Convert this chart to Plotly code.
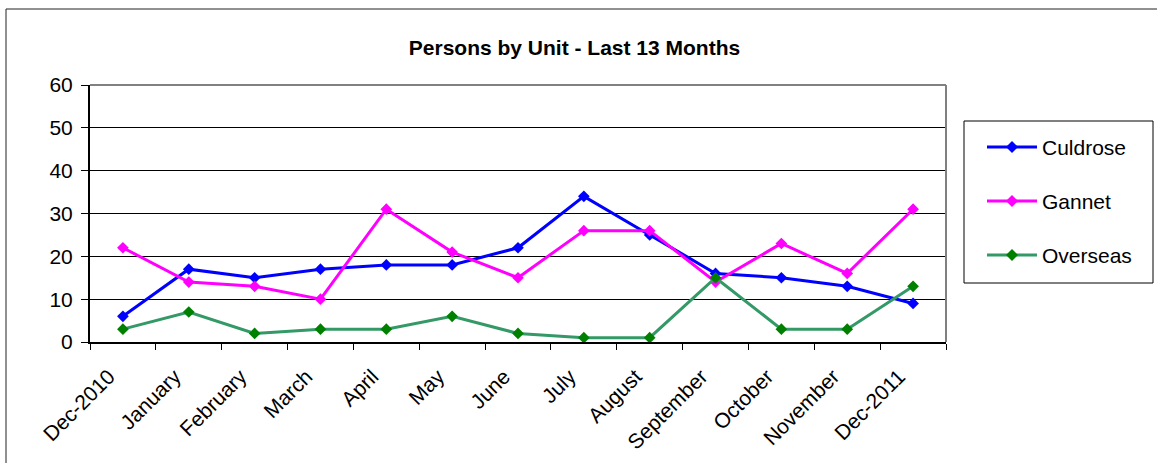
import plotly.graph_objects as go

months = ["Dec-2010", "January", "February", "March", "April", "May", "June",
          "July", "August", "September", "October", "November", "Dec-2011"]
culdrose = [6, 17, 15, 17, 18, 18, 22, 34, 25, 16, 15, 13, 9]
gannet = [22, 14, 13, 10, 31, 21, 15, 26, 26, 14, 23, 16, 31]
overseas = [3, 7, 2, 3, 3, 6, 2, 1, 1, 15, 3, 3, 13]

series_names = ["Culdrose", "Gannet", "Overseas"]
series_values = [culdrose, gannet, overseas]
line_colors = ["#0000FF", "#FF00FF", "#339966"]
marker_colors = ["#0000FF", "#FF00FF", "#008000"]

FONT = "Liberation Sans, Arial, sans-serif"
W, H = 1157, 463
L, R, T, B = 90, 946, 85, 342  # plot area in pixels


def px_x(px):
    return (px - L) / (R - L)


def px_y(py):
    return (B - py) / (B - T)


fig = go.Figure()
for name, vals, lc, mc in zip(series_names, series_values, line_colors, marker_colors):
    fig.add_trace(go.Scatter(
        x=months, y=vals, name=name, mode="lines+markers",
        line=dict(color=lc, width=3),
        marker=dict(symbol="diamond", size=9, color=mc, line=dict(width=0)),
        showlegend=False, cliponaxis=False,
    ))

shapes = []
# outer chart border
shapes.append(dict(type="rect", xref="paper", yref="paper",
                   x0=px_x(6), x1=px_x(1200), y0=px_y(500), y1=px_y(9),
                   line=dict(color="#222222", width=1), layer="below"))
# plot area top / right border (gray)
shapes.append(dict(type="line", xref="paper", yref="paper", x0=0, x1=1, y0=1, y1=1,
                   line=dict(color="#808080", width=2), layer="above"))
shapes.append(dict(type="line", xref="paper", yref="paper", x0=1, x1=1, y0=0, y1=1,
                   line=dict(color="#808080", width=2), layer="above"))

# manual legend
shapes.append(dict(type="rect", xref="paper", yref="paper",
                   x0=px_x(964), x1=px_x(1153), y0=px_y(283), y1=px_y(121),
                   line=dict(color="#000000", width=1), fillcolor="white", layer="above"))
annotations = []
entry_y = [147, 201, 255]
for name, lc, mc, ey in zip(series_names, line_colors, marker_colors, entry_y):
    shapes.append(dict(type="line", xref="paper", yref="paper",
                       x0=px_x(987), x1=px_x(1037), y0=px_y(ey), y1=px_y(ey),
                       line=dict(color=lc, width=3), layer="above"))
    cx, h = 1012, 6
    path = "M {} {} L {} {} L {} {} L {} {} Z".format(
        px_x(cx - h), px_y(ey), px_x(cx), px_y(ey - h),
        px_x(cx + h), px_y(ey), px_x(cx), px_y(ey + h))
    shapes.append(dict(type="path", xref="paper", yref="paper", path=path,
                       fillcolor=mc, line=dict(color=mc, width=0), layer="above"))
    annotations.append(dict(xref="paper", yref="paper", x=px_x(1040), y=px_y(ey),
                            xanchor="left", yanchor="middle", text=name, showarrow=False,
                            font=dict(family=FONT, size=21, color="black")))

fig.update_layout(
    width=W, height=H, autosize=False,
    margin=dict(l=L, r=W - R, t=T, b=H - B, pad=0),
    paper_bgcolor="white", plot_bgcolor="white",
    font=dict(family=FONT, color="black"),
    title=dict(text="<b>Persons by Unit - Last 13 Months</b>",
               x=574.5 / W, xref="container", xanchor="center",
               y=1 - 48 / H, yref="container", yanchor="middle",
               font=dict(family=FONT, size=21, color="black")),
    xaxis=dict(type="category", tickson="boundaries", ticks="outside", ticklen=6,
               tickcolor="black", tickwidth=1, showline=True, linecolor="black",
               linewidth=2, tickangle=-45, tickfont=dict(size=21), showgrid=False,
               range=[-0.5, 12.5], ticklabelstandoff=12, ticklabelshift=-14,
               automargin=False),
    yaxis=dict(range=[0, 60], dtick=10, ticks="outside", ticklen=7, tickcolor="black",
               showline=True, linecolor="black", linewidth=2, gridcolor="black",
               gridwidth=1, zeroline=False, tickfont=dict(size=21), ticklabelstandoff=4,
               automargin=False),
    shapes=shapes, annotations=annotations,
)

fig.write_html("out.html", config={"displayModeBar": False},
               post_script="document.body.style.margin='0px';document.body.style.overflow='hidden';")
